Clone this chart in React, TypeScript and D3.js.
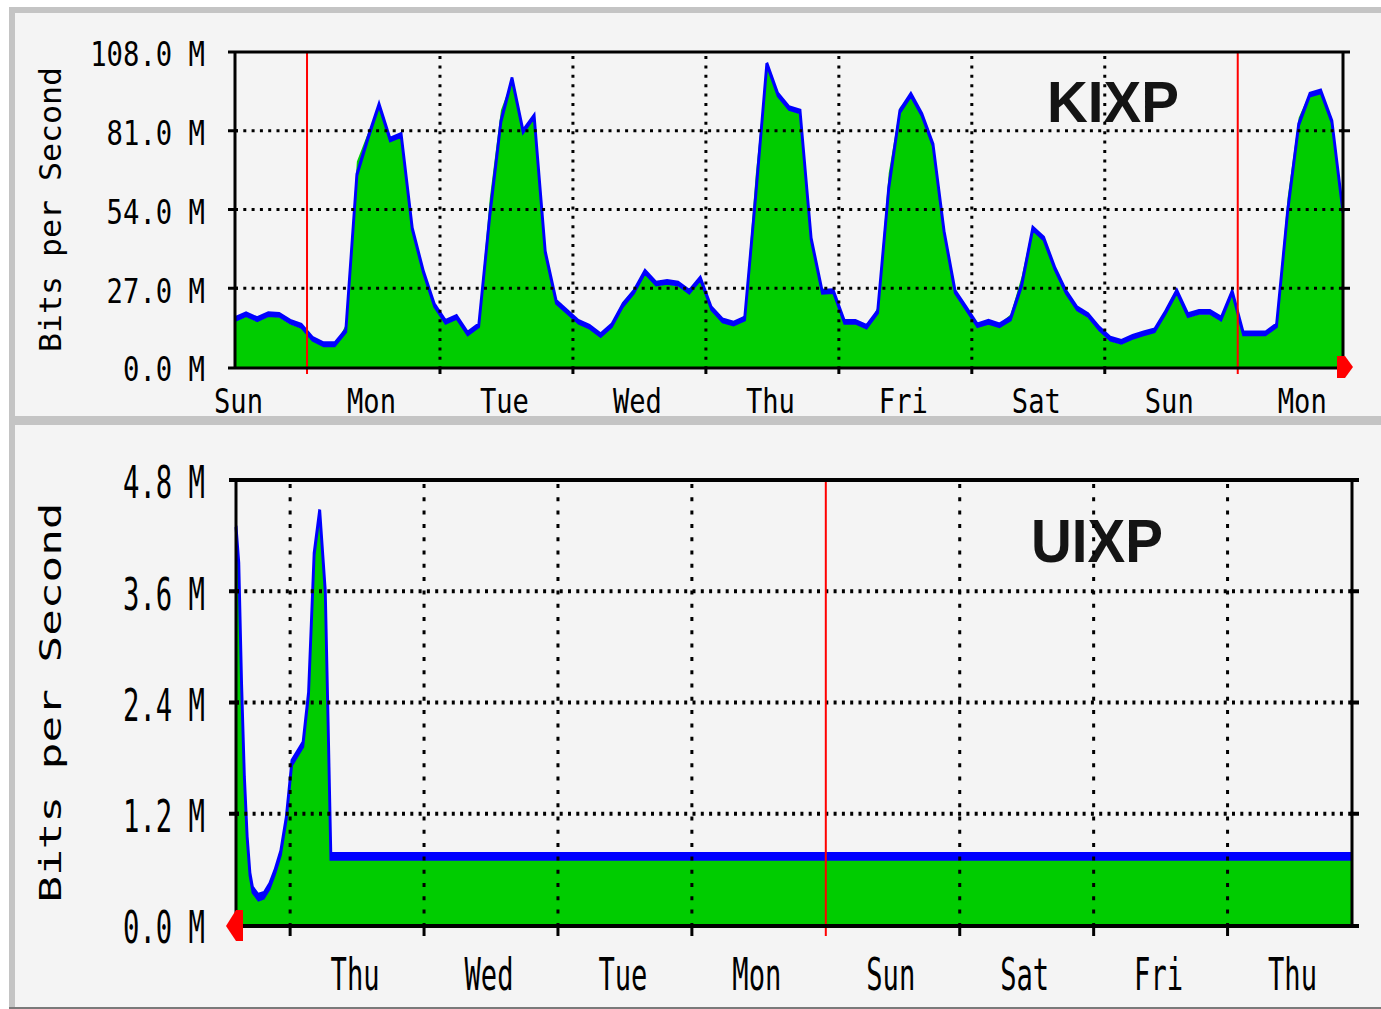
import React from "react";
import * as d3 from "d3";

// KIXP weekly graph: one sample every 2 hours, starting Sunday 11:00 (values in Mbit/s)
const kixpIn = [
  15.6, 17.3, 15.6, 17.3, 17.1, 14.7, 13.3, 8.9, 7.0, 7.0,
  14.5, 70.5, 80.2, 89.2, 77.2, 80.6, 46.7, 31.9, 20.4, 14.7,
  16.8, 11.0, 15.0, 58.0, 88.0, 98.2, 80.0, 85.2, 38.7, 21.5,
  18.1, 14.8, 13.0, 10.2, 14.8, 22.4, 26.5, 33.5, 27.8, 28.4,
  27.8, 25.0, 30.8, 19.3, 15.2, 14.2, 17.8, 66.0, 103.2, 92.6,
  88.0, 86.8, 43.2, 25.0, 26.5, 14.8, 14.8, 13.0, 20.5, 66.5,
  89.0, 93.0, 85.7, 75.4, 45.6, 25.0, 19.3, 13.6, 14.8, 14.8,
  18.0, 31.0, 48.5, 43.2, 33.0, 25.0, 19.3, 17.0, 12.4, 8.9,
  7.8, 9.8, 10.8, 12.0, 19.8, 27.0, 17.0, 18.1, 18.1, 15.8,
  27.0, 10.8, 10.7, 10.8, 15.4, 58.0, 85.5, 94.0, 93.7, 83.4,
  52.2,
];
const kixpOut = [
  16.4, 18.1, 16.4, 18.1, 17.9, 15.5, 14.1, 9.7, 7.8, 7.8,
  12.4, 65.9, 78.5, 90.0, 78.0, 79.6, 47.5, 32.7, 21.2, 15.5,
  17.2, 11.5, 14.3, 52.1, 84.2, 99.0, 80.8, 86.0, 39.5, 22.3,
  18.9, 15.5, 13.8, 10.9, 14.3, 21.2, 25.8, 32.7, 28.6, 29.2,
  28.6, 25.8, 30.4, 20.1, 16.0, 14.9, 16.6, 59.0, 104.0, 93.4,
  88.8, 87.6, 44.0, 25.8, 26.0, 15.5, 15.5, 13.8, 18.9, 61.3,
  87.6, 93.4, 86.5, 76.2, 46.4, 25.8, 20.1, 14.3, 15.5, 14.3,
  16.6, 28.1, 47.5, 44.0, 33.8, 25.8, 20.1, 17.8, 13.2, 9.7,
  8.6, 10.3, 11.5, 12.6, 18.9, 26.0, 17.8, 18.9, 18.9, 16.6,
  25.8, 11.5, 11.5, 11.5, 14.3, 53.3, 83.1, 93.4, 94.5, 84.2,
  53.0,
];
const kixpHours = kixpOut.map((_, i) => i * 2);
const kixpDays = ["Sun", "Mon", "Tue", "Wed", "Thu", "Fri", "Sat", "Sun", "Mon"];
const kixpTicks = [0, 27, 54, 81, 108];
const kixpTickLabels = ["0.0 M", "27.0 M", "54.0 M", "81.0 M", "108.0 M"];

// UIXP graph: hours from the left edge (time runs right to left), values in Mbit/s
const uixpHours = [0, 0.5, 1, 1.5, 2, 2.5, 3, 4, 5, 6, 7, 8, 9, 10, 11, 12, 13, 14, 15, 16, 16.5, 17, 200];
const uixpOut = [4.3, 3.9, 2.6, 1.6, 0.95, 0.55, 0.38, 0.3, 0.32, 0.42, 0.58, 0.78, 1.15, 1.75, 1.85, 1.95, 2.5, 4.0, 4.47, 3.6, 2.2, 0.74, 0.74];
const uixpIn = [4.26, 3.86, 2.56, 1.56, 0.91, 0.51, 0.34, 0.26, 0.28, 0.38, 0.54, 0.74, 1.11, 1.71, 1.81, 1.91, 2.46, 3.96, 4.41, 3.56, 2.16, 0.7, 0.7];
const uixpDays = ["Thu", "Wed", "Tue", "Mon", "Sun", "Sat", "Fri", "Thu"];
const uixpTicks = [0, 1.2, 2.4, 3.6, 4.8];
const uixpTickLabels = ["0.0 M", "1.2 M", "2.4 M", "3.6 M", "4.8 M"];

const MONO = "'DejaVu Sans Mono', monospace";

type ChartProps = {
  left: number; right: number; top: number; base: number;
  hours: number[]; inV: number[]; outV: number[];
  ticks: number[]; tickLabels: string[];
  days: string[]; firstMidnight: number; redIdx: number[];
  name: string; nameX: number; nameY: number; nameSize: number;
  tickSize: number; dayY: number; titleLen: number;
  lineK: number; axisW: number; vDash: string; tickLen: number; arrow: "right" | "left";
};

function Chart(p: ChartProps) {
  const x = d3.scaleLinear().domain([0, 200]).range([p.left, p.right]);
  const y = d3.scaleLinear().domain([0, p.ticks[p.ticks.length - 1]]).range([p.base, p.top]);
  const k = p.lineK;

  const area = d3.area<number>()
    .x((_, i) => x(p.hours[i]))
    .y0(y(0))
    .y1((d) => y(d));
  // the out line is drawn in a y-squashed space so horizontal runs look thicker (like the scaled bitmap)
  const line = d3.line<number>()
    .x((_, i) => x(p.hours[i]))
    .y((d) => y(d) / k);

  const bounds = d3.range(p.firstMidnight, 200, 24);
  const capH = p.tickSize * 0.729;
  const yMid = (p.top + p.base) / 2;

  return (
    <g>
      {/* data */}
      <path d={area(p.inV) || ""} fill="#00cc00" />
      <g transform={`scale(1,${k})`}>
        <path d={line(p.outV) || ""} fill="none" stroke="#0000ff" strokeWidth={2.9} strokeLinejoin="miter" strokeMiterlimit={2} />
      </g>

      {/* name */}
      <text x={p.nameX} y={p.nameY} fontFamily="'Liberation Sans', Arial, sans-serif" fontWeight="bold"
        fontSize={p.nameSize} fill="#141414" textLength={132} lengthAdjust="spacingAndGlyphs">{p.name}</text>

      {/* horizontal grid */}
      {p.ticks.slice(1, -1).map((t) => (
        <g key={t}>
          <line x1={p.left} x2={p.right} y1={y(t)} y2={y(t)} stroke="#000" strokeWidth={p.axisW} strokeDasharray="3,5.3" />
          <line x1={p.left - 7} x2={p.left + 3} y1={y(t)} y2={y(t)} stroke="#000" strokeWidth={p.axisW} />
          <line x1={p.right - 2} x2={p.right + 7} y1={y(t)} y2={y(t)} stroke="#000" strokeWidth={p.axisW} />
        </g>
      ))}

      {/* vertical grid and ticks */}
      {bounds.map((h, i) => (
        <g key={h}>
          {p.redIdx.includes(i) ? (
            <line x1={x(h)} x2={x(h)} y1={p.top} y2={p.base + p.tickLen} stroke="#ff0000" strokeWidth={2} />
          ) : (
            <>
              <line x1={x(h)} x2={x(h)} y1={p.top + 4} y2={p.base} stroke="#000" strokeWidth={3} strokeDasharray={p.vDash} />
              <line x1={x(h)} x2={x(h)} y1={p.base} y2={p.base + p.tickLen} stroke="#000" strokeWidth={3} />
            </>
          )}
        </g>
      ))}

      {/* frame */}
      <line x1={p.left - 7} x2={p.right + 7} y1={p.top} y2={p.top} stroke="#000" strokeWidth={p.axisW} />
      <line x1={p.left - 7} x2={p.right + 7} y1={p.base + 1} y2={p.base + 1} stroke="#000" strokeWidth={p.axisW} />
      <line x1={p.left} x2={p.left} y1={p.top} y2={p.base + 1} stroke="#000" strokeWidth={3} />
      <line x1={p.right} x2={p.right} y1={p.top} y2={p.base + 1} stroke="#000" strokeWidth={3} />

      {/* arrow */}
      {p.arrow === "right" ? (
        <polygon fill="#ff0000"
          points={`${p.right - 6},${p.base - 11} ${p.right + 2},${p.base - 11} ${p.right + 10},${p.base} ${p.right + 2},${p.base + 11} ${p.right - 6},${p.base + 11}`} />
      ) : (
        <polygon fill="#ff0000"
          points={`${p.left + 7},${p.base - 15} ${p.left},${p.base - 15} ${p.left - 10},${p.base + 1} ${p.left},${p.base + 16} ${p.left + 7},${p.base + 16}`} />
      )}

      {/* y tick labels */}
      {p.ticks.map((t, i) => (
        <text key={t} x={205} y={y(t) + capH / 2 + 2} textAnchor="end" fontFamily={MONO}
          fontSize={p.tickSize} textLength={p.tickLabels[i].length * 16.4}
          lengthAdjust="spacingAndGlyphs">{p.tickLabels[i]}</text>
      ))}

      {/* day labels */}
      {p.days.map((d, i) => (
        <text key={i} x={x(p.firstMidnight + 24 * (i - (p.days.length - bounds.length)) + 12) - 2} y={p.dayY}
          textAnchor="middle" fontFamily={MONO} fontSize={p.tickSize} textLength={49}
          lengthAdjust="spacingAndGlyphs">{d}</text>
      ))}

      {/* axis title */}
      <text transform={`translate(61,${yMid}) rotate(-90)`} textAnchor="middle" fontFamily={MONO}
        fontSize={30} textLength={p.titleLen} lengthAdjust="spacingAndGlyphs">Bits per Second</text>
    </g>
  );
}

export default function App() {
  return (
    <svg width={1381} height={1009} style={{ position: "absolute", left: 0, top: 0, display: "block" }}>
      <rect x={0} y={0} width={1381} height={1009} fill="#ffffff" />
      <rect x={9} y={7} width={1372} height={1001} fill="#c4c4c4" />
      <rect x={15} y={13} width={1366} height={403} fill="#f4f4f4" />
      <rect x={15} y={425} width={1366} height={582} fill="#f4f4f4" />
      <rect x={9} y={1007} width={1372} height={2} fill="#7a7a7a" />

      <Chart left={235} right={1343} top={52} base={367}
        hours={kixpHours} inV={kixpIn} outV={kixpOut}
        ticks={kixpTicks} tickLabels={kixpTickLabels}
        days={kixpDays} firstMidnight={13} redIdx={[0, 7]}
        name="KIXP" nameX={1047} nameY={122} nameSize={57}
        tickSize={34} dayY={413} titleLen={285}
        lineK={2} axisW={3} vDash="3,6.4" tickLen={7} arrow="right" />

      <Chart left={236} right={1352} top={480} base={925}
        hours={uixpHours} inV={uixpIn} outV={uixpOut}
        ticks={uixpTicks} tickLabels={uixpTickLabels}
        days={uixpDays} firstMidnight={9.7} redIdx={[4]}
        name="UIXP" nameX={1031} nameY={562} nameSize={61}
        tickSize={45} dayY={990} titleLen={400}
        lineK={3} axisW={4} vDash="4,9.3" tickLen={11} arrow="left" />
    </svg>
  );
}
